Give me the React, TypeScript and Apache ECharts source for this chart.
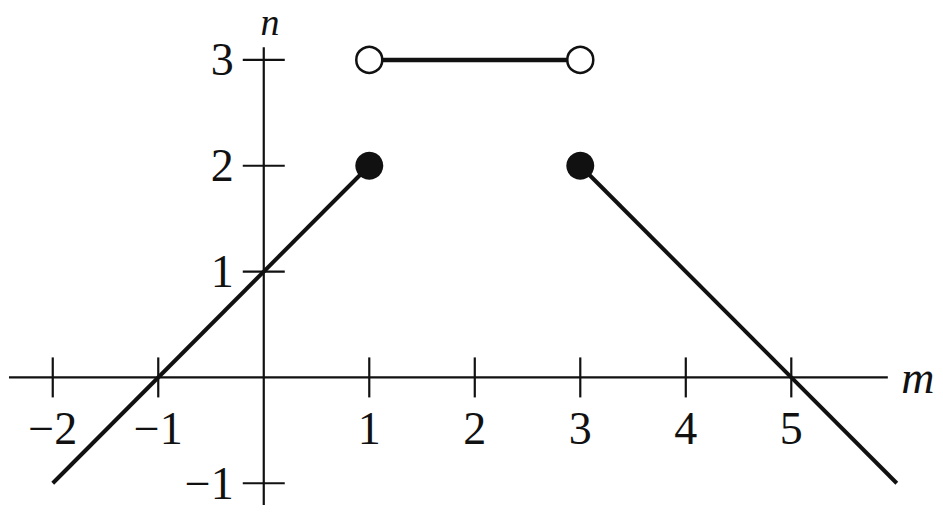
import { useEffect, useRef } from 'react';
import * as echarts from 'echarts';

// tick positions and their labels
const xTicks = [-2, -1, 1, 2, 3, 4, 5];
const xTickLabels = ['−2', '−1', '1', '2', '3', '4', '5'];
const yTicks = [3, 2, 1, -1];
const yTickLabels = ['3', '2', '1', '−1'];

// pieces of the function
const leftPiece = [[-2, -1], [1, 2]];
const topPiece = [[1, 3], [3, 3]];
const rightPiece = [[3, 2], [6, -1]];
const closedPoints = [[1, 2], [3, 2]];
const openPoints = [[1, 3], [3, 3]];

// where the drawn axes start and stop, in data units
const xAxisSpan = [-2.415, 5.915];
const yAxisSpan = [-1.205, 3.12];
const axisNames = ['m', 'n'];
const axisNameAt = [[6.2, 0], [0.06, 3.361]];

const INK = '#111';
const FONT = 'Liberation Serif';

export default function App() {
  const divRef = useRef<HTMLDivElement>(null);

  useEffect(() => {
    if (!divRef.current) return;
    const chart = echarts.init(divRef.current, null, { renderer: 'svg' });

    const segment = (data: number[][], width: number, z: number) => ({
      type: 'line',
      data,
      symbol: 'none',
      silent: true,
      z,
      lineStyle: { color: INK, width },
    });

    const tickLabel = {
      show: true,
      fontFamily: FONT,
      fontSize: 46,
      color: INK,
    };

    chart.setOption({
      animation: false,
      grid: { left: 0, right: 4, top: 7, bottom: 0, containLabel: false },
      xAxis: { type: 'value', min: -2.5, max: 6.4, show: false },
      yAxis: { type: 'value', min: -1.3, max: 3.5, show: false },
      series: [
        segment([[xAxisSpan[0], 0], [xAxisSpan[1], 0]], 2.2, 1),
        segment([[0, yAxisSpan[0]], [0, yAxisSpan[1]]], 2.2, 1),
        {
          type: 'scatter',
          silent: true,
          z: 2,
          data: xTicks.map(v => [v, 0]),
          symbol: 'rect',
          symbolSize: [2.2, 40],
          itemStyle: { color: INK, opacity: 1 },
          label: {
            ...tickLabel,
            position: 'bottom',
            distance: 8,
            formatter: (p: any) => xTickLabels[p.dataIndex],
          },
        },
        {
          type: 'scatter',
          silent: true,
          z: 2,
          data: yTicks.map(v => [0, v]),
          symbol: 'rect',
          symbolSize: [42, 2.2],
          itemStyle: { color: INK, opacity: 1 },
          label: {
            ...tickLabel,
            position: 'left',
            distance: 9,
            formatter: (p: any) => yTickLabels[p.dataIndex],
          },
        },
        segment(leftPiece, 4, 3),
        segment(topPiece, 4.5, 3),
        segment(rightPiece, 4, 3),
        {
          type: 'scatter',
          silent: true,
          z: 4,
          data: closedPoints,
          symbol: 'circle',
          symbolSize: 28,
          itemStyle: { color: INK, opacity: 1 },
        },
        {
          type: 'scatter',
          silent: true,
          z: 5,
          data: openPoints,
          symbol: 'circle',
          symbolSize: 26,
          itemStyle: { color: '#fff', borderColor: INK, borderWidth: 2.5, opacity: 1 },
        },
        {
          type: 'scatter',
          silent: true,
          z: 5,
          // the n label sits close to the top edge, so it is set a little smaller
          data: axisNameAt.map((v, i) => ({
            value: v,
            label: i === 1 ? { fontSize: 38, lineHeight: 38 } : undefined,
          })),
          symbolSize: 0,
          itemStyle: { opacity: 1 },
          label: {
            show: true,
            position: 'inside',
            formatter: (p: any) => axisNames[p.dataIndex],
            fontFamily: FONT,
            fontStyle: 'italic',
            fontSize: 46,
            color: INK,
          },
        },
      ],
    });

    return () => chart.dispose();
  }, []);

  return (
    <div
      ref={divRef}
      style={{ position: 'fixed', left: 0, top: 0, width: 943, height: 515, background: '#fff' }}
    />
  );
}
